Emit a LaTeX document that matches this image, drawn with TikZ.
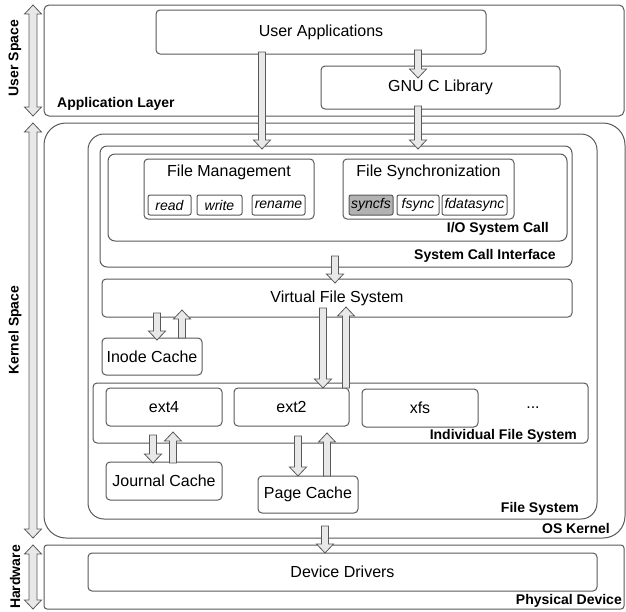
\documentclass[tikz,border=0pt]{standalone}
\usepackage{fontspec}
\setmainfont{Liberation Sans}
\usetikzlibrary{calc}

\definecolor{linegray}{RGB}{89,89,89}
\definecolor{arrowfill}{RGB}{232,232,232}
\definecolor{callfill}{RGB}{178,178,178}

\tikzset{
  box/.style={draw=linegray, line width=1pt, rounded corners=4pt, inner sep=0pt, outer sep=0pt,
    anchor=north west, font=\fontsize{16}{18}\selectfont},
  callbox/.style={box, rounded corners=2pt, anchor=north west, font=\fontsize{14}{16}\selectfont\itshape},
  layer/.style={font=\fontsize{14}{16}\selectfont\bfseries, inner sep=0pt},
  title/.style={font=\fontsize{16}{18}\selectfont, inner sep=0pt},
  blkarrow/.style={draw=linegray, fill=arrowfill, line width=0.8pt, line join=miter},
}

% 單向箭頭 (垂直): 起點, 終點, 伸入起點框, 伸入終點框
\newcommand{\blk}[4]{%
  \draw[blkarrow] let \p1=(#1), \p2=(#2), \n1={sign(\y2-\y1)},
      \n2={\y1-(\n1)*(#3pt)}, \n3={\y2+(\n1)*(#4pt)}, \n4={\n3-(\n1)*9} in
    ({\x1-3.5pt},{\n2*1pt}) -- ({\x1-3.5pt},{\n4*1pt}) -- ({\x1-8.5pt},{\n4*1pt})
    -- (\x1,{\n3*1pt}) -- ({\x1+8.5pt},{\n4*1pt}) -- ({\x1+3.5pt},{\n4*1pt})
    -- ({\x1+3.5pt},{\n2*1pt}) -- cycle;}
% 雙向箭頭 (左側)
\newcommand{\dblk}[2]{%
  \draw[blkarrow] let \p1=(#1), \p2=(#2) in
    (\x1,\y1) -- ({\x1+8.5pt},{\y1-9pt}) -- ({\x1+4pt},{\y1-9pt}) -- ({\x1+4pt},{\y2+9pt})
    -- ({\x1+8.5pt},{\y2+9pt}) -- (\x1,\y2) -- ({\x1-8.5pt},{\y2+9pt}) -- ({\x1-4pt},{\y2+9pt})
    -- ({\x1-4pt},{\y1-9pt}) -- ({\x1-8.5pt},{\y1-9pt}) -- cycle;}

\begin{document}
\begin{tikzpicture}[x=1pt, y=-1pt]
    \useasboundingbox (0,0) rectangle (626,611);

    % 使用者空間
    \node[box, rounded corners=5pt, minimum width=580pt, minimum height=111pt] (app) at (44,5) {};
    \node[box, minimum width=330pt, minimum height=44pt] (ua) at (156,10) {User Applications};
    \node[box, minimum width=239pt, minimum height=43pt] (glibc) at (321,66) {GNU C Library};
    \node[layer, anchor=west] (appl) at ($(app.south west)+(13,-12)$) {Application Layer};

    % 核心
    \node[box, rounded corners=22pt, minimum width=581pt, minimum height=415pt] (kern) at (44,123) {};
    \node[box, rounded corners=16pt, minimum width=509pt, minimum height=385pt] (fs) at (88,134) {};
    \node[box, rounded corners=7pt, minimum width=472pt, minimum height=121pt] (sci) at (100,146) {};
    \node[box, rounded corners=7pt, minimum width=459pt, minimum height=87pt] (io) at (108,154) {};

    % 系統呼叫
    \node[box, minimum width=170pt, minimum height=60pt] (fm) at (144,159) {};
    \node[title] (fmt) at ($(fm.north)+(0,13)$) {File Management};
    \node[callbox, minimum width=43pt, minimum height=20pt] (read) at (148,195) {read};
    \node[callbox, minimum width=45pt, minimum height=20pt] (write) at (197,195) {write};
    \node[callbox, minimum width=53pt, minimum height=20pt] (rename) at (252,195) {rename};

    \node[box, minimum width=171pt, minimum height=60pt] (fsyn) at (343,159) {};
    \node[title] (fsynt) at ($(fsyn.north)+(0,13)$) {File Synchronization};
    \node[callbox, fill=callfill, minimum width=44pt, minimum height=20pt] (syncfs) at (349,195) {syncfs};
    \node[callbox, minimum width=42pt, minimum height=20pt] (fsync) at (397,195) {fsync};
    \node[callbox, minimum width=65pt, minimum height=20pt] (fdatasync) at (442,195) {fdatasync};

    \node[layer, anchor=east] (iol) at ($(io.south east)+(-18,-12)$) {I/O System Call};
    \node[layer, anchor=east] (scil) at ($(sci.south east)+(-16,-11)$) {System Call Interface};

    % 檔案系統
    \node[box, minimum width=470pt, minimum height=38pt] (vfs) at (102,279) {Virtual File System};
    \node[box, minimum width=100pt, minimum height=37pt] (inode) at (102,338) {Inode Cache};
    \node[box, minimum width=495pt, minimum height=60pt] (ifs) at (93,383) {};
    \node[box, minimum width=116pt, minimum height=38pt] (ext4) at (106,388) {ext4};
    \node[box, minimum width=115pt, minimum height=38pt] (ext2) at (234,388) {ext2};
    \node[box, minimum width=116pt, minimum height=38pt] (xfs) at (362,389) {xfs};
    \node[title] (dots) at (533,408) {...};
    \node[layer, anchor=east] (ifsl) at ($(ifs.south east)+(-11,-7)$) {Individual File System};
    \node[box, minimum width=116pt, minimum height=38pt] (jc) at (106,462) {Journal Cache};
    \node[box, minimum width=100pt, minimum height=37pt] (pc) at (258,476) {Page Cache};
    \node[layer, anchor=east] (fsl) at ($(fs.south east)+(-18,-10)$) {File System};
    \node[layer, anchor=east] (kernl) at ($(kern.south east)+(-15,-10)$) {OS Kernel};

    % 硬體
    \node[box, rounded corners=3pt, minimum width=580pt, minimum height=64pt] (phys) at (44,545) {};
    \node[box, minimum width=509pt, minimum height=38pt] (dd) at (88,553) {Device Drivers};
    \node[layer, anchor=east] (physl) at ($(phys.south east)+(-2,-8)$) {Physical Device};

    % 左側空間
    \node[layer, rotate=90] (us) at (15,58) {User Space};
    \node[layer, rotate=90] (ks) at (15,330) {Kernel Space};
    \node[layer, rotate=90] (hw) at (15,577) {Hardware};
    \dblk{33,0 |- app.north}{33,0 |- app.south}
    \dblk{33,0 |- kern.north}{33,0 |- kern.south}
    \dblk{33,0 |- phys.north}{33,0 |- phys.south}

    % 箭頭
    \blk{262,0 |- ua.south}{262,0 |- sci.north}{2}{3}
    \blk{418,0 |- ua.south}{418,0 |- glibc.north}{4}{12}
    \blk{418,0 |- glibc.south}{418,0 |- sci.north}{3}{3}
    \blk{335,0 |- sci.south}{335,0 |- vfs.north}{11}{4}
    \blk{157,0 |- vfs.south}{157,0 |- inode.north}{4}{2}
    \blk{182,0 |- inode.north}{182,0 |- vfs.south}{0}{7}
    \blk{323,0 |- vfs.south}{323,0 |- ext2.north}{9}{0}
    \blk{346,0 |- ext2.north}{346,0 |- vfs.south}{0}{10}
    \blk{153,0 |- ext4.south}{153,0 |- jc.north}{-9}{1}
    \blk{173,0 |- jc.north}{173,0 |- ext4.south}{1}{-6}
    \blk{298,0 |- ext2.south}{298,0 |- pc.north}{-10}{0}
    \blk{327,0 |- pc.north}{327,0 |- ext2.south}{0}{-7}
    \blk{325,0 |- fs.south}{325,0 |- dd.north}{-7}{0}
\end{tikzpicture}
\end{document}
